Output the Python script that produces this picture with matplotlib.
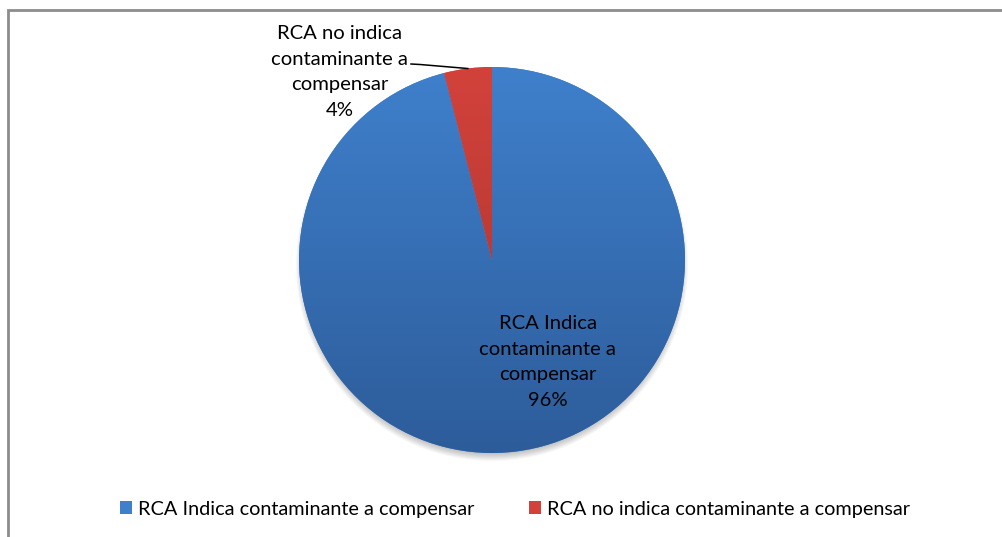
import matplotlib.pyplot as plt
import numpy as np
from matplotlib.patches import Circle, Rectangle
from matplotlib.colors import LinearSegmentedColormap

# Datos del grafico
categorias = ["RCA Indica contaminante a compensar",
              "RCA no indica contaminante a compensar"]
etiquetas = ["RCA Indica\ncontaminante a\ncompensar",
             "RCA no indica\ncontaminante a\ncompensar"]
valores = [96, 4]
colores_arriba = ["#3F80CC", "#D2423B"]
colores_abajo = ["#2D5C9A", "#A8322E"]

W, H = 1002, 537
plt.rcParams['font.family'] = ['Lato', 'DejaVu Sans']

fig = plt.figure(figsize=(W / 100, H / 100), dpi=100)
ax = fig.add_axes([0, 0, 1, 1])

cx, cy, r = 492, H - 260, 193


def py(y):
    # pixel row (from top) -> data y
    return H - y


# sombra suave debajo del pastel
for k in range(8):
    ax.add_patch(Circle((cx, cy - 5), r + 3 - k, color="#000000",
                        alpha=0.03, lw=0, zorder=1))

wedges, _ = ax.pie(valores, colors=colores_arriba, startangle=90,
                   counterclock=False, radius=r, center=(cx, cy),
                   wedgeprops=dict(linewidth=0, zorder=2), frame=True)

# degradado vertical en cada porcion
for w, c1, c2 in zip(wedges, colores_arriba, colores_abajo):
    cmap = LinearSegmentedColormap.from_list("g", [c1, c2])
    grad = np.linspace(0, 1, 256).reshape(-1, 1)
    im = ax.imshow(grad, cmap=cmap, aspect="auto",
                   extent=(cx - r, cx + r, cy - r, cy + r),
                   origin="upper", zorder=3)
    im.set_clip_path(w)

total = sum(valores)
fs = 14.6

# etiqueta de la porcion azul (dentro)
ax.text(548, py(362), f"{etiquetas[0]}\n{valores[0] / total:.0%}",
        ha="center", va="center", fontsize=fs, color="#000000",
        linespacing=1.62, zorder=5)

# etiqueta de la porcion roja (fuera, con linea guia)
ax.text(340, py(72), f"{etiquetas[1]}\n{valores[1] / total:.0%}",
        ha="center", va="center", fontsize=fs, color="#000000",
        linespacing=1.62, zorder=5)
ang = np.deg2rad((wedges[1].theta1 + wedges[1].theta2) / 2)
ex, ey = cx + r * np.cos(ang), cy + r * np.sin(ang)
ax.plot([411, 420, ex], [py(64), py(64.5), ey], color="#000000", lw=1.1,
        zorder=5)

# marco del area del grafico
ax.add_patch(Rectangle((8, -20), W + 20, py(10) + 20, fill=False,
                       edgecolor="#8C8C8C", lw=2, zorder=0))

ax.legend(wedges, categorias, loc="center", bbox_to_anchor=(515, py(509)),
          bbox_transform=ax.transData, ncol=2, frameon=False,
          fontsize=14.3, handlelength=0.6, handleheight=0.6,
          handletextpad=0.3, columnspacing=2.8)

ax.set_xlim(0, W)
ax.set_ylim(0, H)
ax.set_aspect("auto")
ax.axis("off")

fig.savefig("out.png", dpi=100)
